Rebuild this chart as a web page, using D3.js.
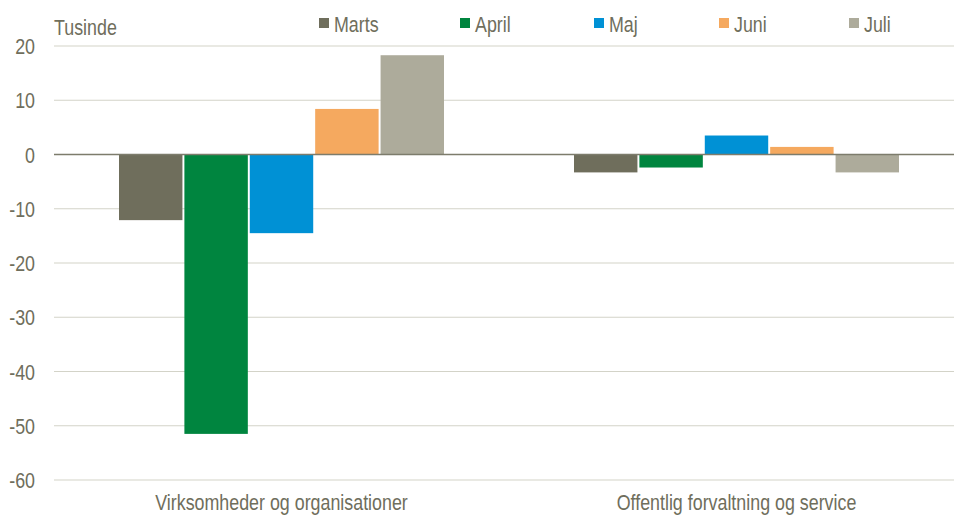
<!DOCTYPE html>
<html><head><meta charset="utf-8">
<script src="https://cdn.jsdelivr.net/npm/d3@7"></script>
<style>body{margin:0;background:#fff}svg{display:block}text{font-family:"Liberation Sans Narrow","Arial Narrow","Liberation Sans",Arial,sans-serif;fill:#6f6e5c}</style>
</head><body><svg id="c" width="954" height="515"></svg>
<script>
const categories = ["Virksomheder og organisationer", "Offentlig forvaltning og service"];
const seriesNames = ["Marts", "April", "Maj", "Juni", "Juli"];
const seriesColors = ["#6f6e5c", "#00853f", "#0091d5", "#f5a95f", "#adab9b"];
const marts = [-12.1, -3.3];
const april = [-51.5, -2.4];
const maj = [-14.5, 3.5];
const juni = [8.4, 1.4];
const juli = [18.3, -3.3];
const yTicks = [20, 10, 0, -10, -20, -30, -40, -50, -60];
const unitLabel = "Tusinde";

const values = [marts, april, maj, juni, juli];
const SX = 0.83;
const FS = "21.5px";
const svg = d3.select("#c");
const x0 = d3.scaleBand().domain(categories).range([54, 964]).paddingInner(0).paddingOuter(0);
const x1 = d3.scaleBand().domain(seriesNames).range([0, 325]).paddingInner(0.03).paddingOuter(0);
const y = d3.scaleLinear().domain([-60, 20]).range([480, 46]);

// gridlines
svg.append("g").selectAll("line").data(yTicks.filter(d => d !== 0)).join("line")
  .attr("x1", 54).attr("x2", 954).attr("y1", d => y(d)).attr("y2", d => y(d))
  .attr("stroke", "#d3d3c8").attr("stroke-width", 1.2);

// y axis labels
const yAxis = d3.axisLeft(y).tickValues(yTicks).tickSize(0).tickPadding(0).tickFormat(d => String(d));
const ya = svg.append("g").attr("transform", "translate(35,0)").call(yAxis);
ya.select(".domain").remove();
ya.selectAll("text").style("font-size", FS).attr("fill", "#6f6e5c").attr("dy", "0.35em")
  .attr("transform", `scale(${SX},1)`);

// bars
seriesNames.forEach((s, i) => {
  svg.append("g").selectAll("rect").data(categories).join("rect")
    .attr("x", c => x0(c) + (x0.bandwidth() - 325) / 2 + x1(s))
    .attr("width", x1.bandwidth())
    .attr("y", (c, j) => y(Math.max(0, values[i][j])))
    .attr("height", (c, j) => Math.abs(y(values[i][j]) - y(0)))
    .attr("fill", seriesColors[i]);
});

// zero line
svg.append("line").attr("x1", 54).attr("x2", 954).attr("y1", y(0)).attr("y2", y(0))
  .attr("stroke", "#7d7c6c").attr("stroke-width", 1.5);

// category labels
const xAxis = d3.axisBottom(x0).tickSize(0).tickPadding(0);
const xa = svg.append("g").attr("transform", "translate(0,510)").call(xAxis);
xa.select(".domain").remove();
xa.selectAll("text").style("font-size", FS).attr("fill", "#6f6e5c").attr("dy", "0")
  .attr("transform", `scale(${SX},1)`);

// unit label
svg.append("g").attr("transform", "translate(54,35)")
  .append("text").attr("transform", `scale(${SX},1)`).style("font-size", FS).text(unitLabel);

// legend
const legX = [319, 460, 594, 719, 849];
seriesNames.forEach((s, i) => {
  const g = svg.append("g").attr("transform", `translate(${legX[i]},0)`);
  g.append("rect").attr("x", 0).attr("y", 18).attr("width", 10).attr("height", 10).attr("fill", seriesColors[i]);
  g.append("g").attr("transform", "translate(15,32)")
    .append("text").attr("transform", `scale(${SX},1)`).style("font-size", FS).text(s);
});
</script></body></html>
